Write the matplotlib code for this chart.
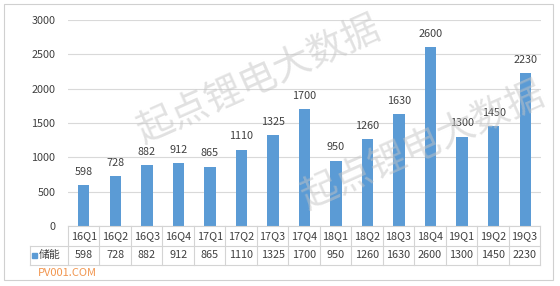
import matplotlib.pyplot as plt
from matplotlib.patches import Rectangle
from matplotlib.lines import Line2D

plt.rcParams['font.family'] = ['Noto Sans CJK SC', 'DejaVu Sans']

quarters = ['16Q1', '16Q2', '16Q3', '16Q4', '17Q1', '17Q2', '17Q3', '17Q4',
            '18Q1', '18Q2', '18Q3', '18Q4', '19Q1', '19Q2', '19Q3']
storage = [598, 728, 882, 912, 865, 1110, 1325, 1700,
           950, 1260, 1630, 2600, 1300, 1450, 2230]
series_name = '储能'
yticks = [0, 500, 1000, 1500, 2000, 2500, 3000]

bar_color = '#5b9bd5'
text_color = '#404040'
grid_color = '#d9d9d9'

W, H = 560, 286
fig = plt.figure(figsize=(W / 100, H / 100), dpi=100)

# outer chart border
fig.patches.append(Rectangle((4 / W, 1 - 280 / H), 549 / W, 276 / H,
                             transform=fig.transFigure, fill=False,
                             edgecolor='#d0d0d0', lw=0.8))

left, right = 68 / W, 541 / W
top, bottom = 1 - 20 / H, 1 - 226 / H
ax = fig.add_axes([left, bottom, right - left, top - bottom])

x = range(len(quarters))
ax.bar(x, storage, width=0.36, color=bar_color, zorder=3)
for i, v in enumerate(storage):
    ax.annotate(str(v), (i, v), xytext=(0, 6), textcoords='offset points',
                ha='center', va='bottom', fontsize=7.8, color=text_color,
                zorder=4)

ax.set_xlim(-0.5, len(quarters) - 0.5)
ax.set_ylim(0, 3000)
ax.set_yticks(yticks)
ax.set_yticklabels([str(t) for t in yticks], fontsize=7.8, color=text_color)
ax.tick_params(axis='y', length=0, pad=9)
ax.set_xticks([])
ax.grid(axis='y', color=grid_color, lw=0.8, zorder=0)
for s in ax.spines.values():
    s.set_visible(False)

# data table under the plot
row1_top, row_h = 226, 19.5
col_w = (540 - 68) / len(quarters)
leg_left = 30
tc = '#d4d4d4'

def fx(px):
    return px / W

def fy(py):
    return 1 - py / H

def hline(x0, x1, y):
    fig.add_artist(Line2D([fx(x0), fx(x1)], [fy(y), fy(y)], color=tc, lw=0.8))

def vline(xp, y0, y1):
    fig.add_artist(Line2D([fx(xp), fx(xp)], [fy(y0), fy(y1)], color=tc, lw=0.8))

hline(68, 540, row1_top)
hline(leg_left, 540, row1_top + row_h)
hline(leg_left, 540, row1_top + 2 * row_h)
vline(leg_left, row1_top + row_h, row1_top + 2 * row_h)
for k in range(len(quarters) + 1):
    vline(68 + k * col_w, row1_top, row1_top + 2 * row_h)

for k, (q, v) in enumerate(zip(quarters, storage)):
    cx = 68 + (k + 0.5) * col_w
    fig.text(fx(cx), fy(row1_top + row_h / 2), q, ha='center', va='center',
             fontsize=7.8, color=text_color)
    fig.text(fx(cx), fy(row1_top + 1.5 * row_h), str(v), ha='center',
             va='center', fontsize=7.8, color=text_color)

fig.patches.append(Rectangle((fx(32), fy(row1_top + 1.5 * row_h + 3)),
                             5 / W, 5 / H, transform=fig.transFigure,
                             color=bar_color))
fig.text(fx(39), fy(row1_top + 1.5 * row_h), series_name, ha='left',
         va='center', fontsize=7.8, color=text_color)

# watermarks
for cx, cy in [(258, 80), (422, 146)]:
    fig.text(fx(cx), fy(cy), '起点锂电大数据', ha='center', va='center',
             rotation=24, fontsize=27, color='#c4c4c4', alpha=0.5)
fig.text(fx(38), fy(273), 'PV001.COM', ha='left', va='center',
         fontsize=8, color='#f08a3c', alpha=0.9)

fig.savefig('out.png', dpi=100)
plt.close(fig)
